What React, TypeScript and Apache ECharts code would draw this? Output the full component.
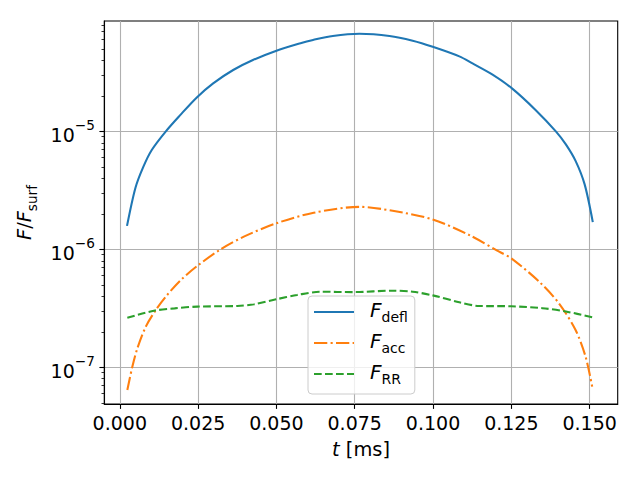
import React, { useEffect, useRef } from 'react';
import * as echarts from 'echarts';

// ---- data ----
const T_DEFL = [0.0023, 0.005, 0.0075, 0.0102, 0.0147, 0.0192, 0.0245, 0.0298, 0.0362, 0.0425, 0.0498, 0.0574, 0.0617, 0.068, 0.0765, 0.0861, 0.0935, 0.0999, 0.1084, 0.1126, 0.119, 0.1252, 0.1328, 0.1392, 0.1424, 0.1455, 0.1484, 0.151];
const F_DEFL = [1.58e-6, 3.33e-6, 5.0e-6, 6.95e-6, 1.0e-5, 1.365e-5, 1.93e-5, 2.55e-5, 3.31e-5, 4.02e-5, 4.8e-5, 5.55e-5, 5.95e-5, 6.43e-5, 6.71e-5, 6.43e-5, 5.86e-5, 5.21e-5, 4.32e-5, 3.76e-5, 3.02e-5, 2.31e-5, 1.51e-5, 1.0e-5, 7.76e-6, 5.62e-6, 3.55e-6, 1.7e-6];

const T_ACC = [0.0024, 0.004, 0.0056, 0.0083, 0.0115, 0.0147, 0.0194, 0.0247, 0.0322, 0.0396, 0.0499, 0.0619, 0.0765, 0.0871, 0.0999, 0.1116, 0.1211, 0.125, 0.1339, 0.1402, 0.1455, 0.1487, 0.1508];
const F_ACC = [6.42e-8, 1.01e-7, 1.445e-7, 2.21e-7, 3.06e-7, 3.98e-7, 5.47e-7, 7.22e-7, 1.0e-6, 1.28e-6, 1.66e-6, 2.04e-6, 2.29e-6, 2.12e-6, 1.79e-6, 1.32e-6, 9.55e-7, 8.39e-7, 5.31e-7, 3.48e-7, 2.07e-7, 1.23e-7, 6.86e-8];

const T_RR = [0.0024, 0.0109, 0.0175, 0.0247, 0.0375, 0.0428, 0.0499, 0.0566, 0.064, 0.0747, 0.0871, 0.0935, 0.0999, 0.1084, 0.1147, 0.125, 0.1349, 0.1424, 0.1508];
const F_RR = [2.63e-7, 3.02e-7, 3.16e-7, 3.27e-7, 3.31e-7, 3.42e-7, 3.77e-7, 4.1e-7, 4.37e-7, 4.34e-7, 4.46e-7, 4.37e-7, 4.07e-7, 3.56e-7, 3.31e-7, 3.29e-7, 3.17e-7, 2.97e-7, 2.66e-7];

const SERIES_NAMES = ['F_defl', 'F_acc', 'F_RR'];
const SERIES_SUBS = ['defl', 'acc', 'RR'];
const SERIES_COLORS = ['#1f77b4', '#ff7f0e', '#2ca02c'];

const X_TICKS = [0, 0.025, 0.05, 0.075, 0.1, 0.125, 0.15];
const Y_MAJOR_EXPONENTS = [-7, -6, -5];
const Y_MINOR_MULTIPLIERS = [2, 3, 4, 5, 6, 7, 8, 9];

const X_MIN = -0.00495;
const X_MAX = 0.15895;
const Y_MIN = 4.887e-8;
const Y_MAX = 8.61e-5;

const FONT = "'DejaVu Sans', sans-serif";

export default function App() {
  const ref = useRef<HTMLDivElement>(null);

  useEffect(() => {
    if (!ref.current) return;
    const chart = echarts.init(ref.current, null, { renderer: 'svg' });

    const yMin = Math.log10(Y_MIN);
    const yMax = Math.log10(Y_MAX);
    const minorTicks: number[] = [];
    for (let e = -9; e <= -3; e++) {
      for (const k of Y_MINOR_MULTIPLIERS) {
        const v = Math.log10(k) + e;
        if (v > yMin && v < yMax) minorTicks.push(v);
      }
    }

    const toData = (ts: number[], fs: number[]) => ts.map((t, i) => [t, Math.log10(fs[i])]);
    const dataSets = [toData(T_DEFL, F_DEFL), toData(T_ACC, F_ACC), toData(T_RR, F_RR)];
    const dashes: any[] = ['solid', [13.3, 3.3, 2.1, 3.3], [7.7, 3.3]];

    const subMap: Record<string, string> = {};
    SERIES_NAMES.forEach((n, i) => (subMap[n] = SERIES_SUBS[i]));

    const option: any = {
      animation: false,
      backgroundColor: '#ffffff',
      grid: {
        left: 104.3,
        right: 22.3,
        top: 21,
        bottom: 76,
        show: true,
        borderColor: '#000',
        borderWidth: 1.1,
        backgroundColor: 'transparent',
        containLabel: false,
        outerBoundsMode: 'none',
      },
      xAxis: {
        type: 'value',
        min: X_MIN,
        max: X_MAX,
        axisLine: { show: true, onZero: false, lineStyle: { color: '#000', width: 1.1 } },
        axisTick: { show: true, length: 4.9, customValues: X_TICKS, lineStyle: { color: '#000', width: 1.1 } },
        axisLabel: {
          customValues: X_TICKS,
          formatter: (v: number) => v.toFixed(3),
          margin: 9,
          fontSize: 19,
          fontFamily: FONT,
          color: '#000',
        },
        splitLine: { show: true, lineStyle: { color: '#b0b0b0', width: 1.1 } },
        name: '{i|t}{r| [ms]}',
        nameLocation: 'middle',
        nameGap: 33.5,
        nameTextStyle: {
          color: '#000',
          verticalAlign: 'top',
          rich: {
            i: { fontFamily: FONT, fontSize: 19.4, fontStyle: 'italic', lineHeight: 24, color: '#000', verticalAlign: 'middle' },
            r: { fontFamily: FONT, fontSize: 19.4, lineHeight: 24, color: '#000', verticalAlign: 'middle' },
          },
        },
      },
      yAxis: [
        {
          type: 'value',
          min: yMin,
          max: yMax,
          axisLine: { show: true, onZero: false, lineStyle: { color: '#000', width: 1.1 } },
          axisTick: { show: true, length: 4.9, customValues: Y_MAJOR_EXPONENTS, lineStyle: { color: '#000', width: 1.1 } },
          axisLabel: {
            customValues: Y_MAJOR_EXPONENTS,
            margin: 9.5,
            formatter: (v: number) => `{b|10}{s|\u2212${Math.round(-v)}}`,
            rich: {
              b: { fontFamily: FONT, fontSize: 19, lineHeight: 26, verticalAlign: 'bottom', color: '#000' },
              s: { fontFamily: FONT, fontSize: 13.6, lineHeight: 14.8, verticalAlign: 'top', color: '#000' },
            },
          },
          splitLine: { show: true, lineStyle: { color: '#b0b0b0', width: 1.1 } },
          name: '{F|F}{r|/}{F|F}{s|surf}',
          nameLocation: 'middle',
          nameRotate: 90,
          nameGap: 65.5,
          nameTextStyle: {
            color: '#000',
            rich: {
              F: { fontFamily: FONT, fontSize: 19.4, fontStyle: 'italic', lineHeight: 24, verticalAlign: 'top', color: '#000' },
              r: { fontFamily: FONT, fontSize: 19.4, lineHeight: 24, verticalAlign: 'top', color: '#000' },
              s: { fontFamily: FONT, fontSize: 13.6, lineHeight: 14.8, verticalAlign: 'bottom', color: '#000' },
            },
          },
        },
        {
          type: 'value',
          min: yMin,
          max: yMax,
          position: 'left',
          axisLine: { show: false, onZero: false },
          axisTick: { show: true, length: 2.8, customValues: minorTicks, lineStyle: { color: '#000', width: 0.8 } },
          axisLabel: { show: false },
          splitLine: { show: false },
        },
      ],
      legend: {
        orient: 'vertical',
        left: 308,
        top: 296,
        padding: [4, 7, 8, 5],
        itemGap: 7,
        itemWidth: 40,
        itemHeight: 14,
        selectedMode: false,
        backgroundColor: 'rgba(255,255,255,0.8)',
        borderColor: '#cccccc',
        borderWidth: 1,
        borderRadius: 4,
        itemStyle: { opacity: 0, color: 'transparent', borderWidth: 0 },
        data: SERIES_NAMES,
        formatter: (name: string) => `{F|F}{s|${subMap[name]}}`,
        textStyle: {
          color: '#000',
          rich: {
            F: { fontFamily: FONT, fontSize: 20, fontStyle: 'italic', lineHeight: 24, verticalAlign: 'top', padding: [0, 0, 0, 11], color: '#000' },
            s: { fontFamily: FONT, fontSize: 14, lineHeight: 14.6, verticalAlign: 'bottom', color: '#000' },
          },
        },
      },
      series: SERIES_NAMES.map((name, i) => ({
        type: 'line',
        name,
        data: dataSets[i],
        xAxisIndex: 0,
        yAxisIndex: 0,
        symbol: 'none',
        smooth: 0.3,
        silent: true,
        itemStyle: { color: SERIES_COLORS[i] },
        lineStyle: { color: SERIES_COLORS[i], width: 2.08, type: dashes[i], cap: 'butt' },
        z: 3 + i,
      })),
    };

    chart.setOption(option);
    return () => chart.dispose();
  }, []);

  return (
    <div
      ref={ref}
      style={{ position: 'fixed', left: 0, top: 0, width: 640, height: 480, background: '#fff' }}
    />
  );
}
